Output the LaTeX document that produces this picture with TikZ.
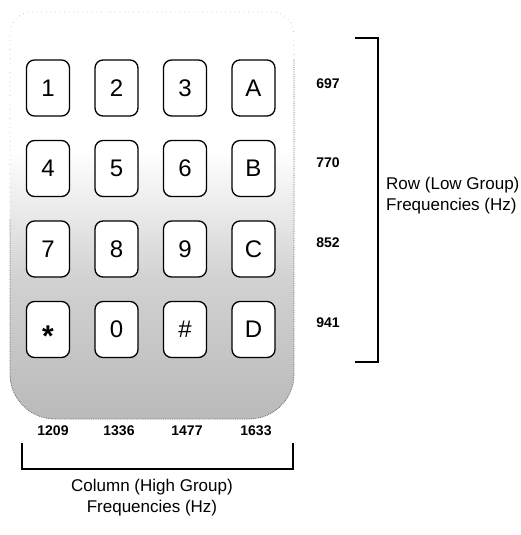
\documentclass[tikz,border=0pt]{standalone}
\usepackage{fontspec}
\setmainfont{Liberation Sans}
\pgfdeclareverticalshading{panelshade}{100bp}{color(0bp)=(black!27); color(25bp)=(black!27); color(42bp)=(black!18); color(58bp)=(white); color(100bp)=(white)}
\begin{document}
\begin{tikzpicture}[x=1pt,y=-1pt,
  keybox/.style={draw=black, line width=1.3pt, rounded corners=8pt, fill=white,
    minimum width=43pt, minimum height=56pt, inner sep=0pt, font=\fontsize{24}{26}\selectfont},
  freq/.style={font=\fontsize{14}{16}\selectfont\bfseries, inner sep=0pt},
  grouplabel/.style={font=\fontsize{17}{21}\selectfont, align=left, inner sep=0pt},
  bracketline/.style={draw=black, line width=1.3pt},
  paneledge/.style={draw=black!60, densely dotted, line width=0.8pt},
  panelfaint/.style={draw=black!30, loosely dotted, line width=0.6pt}]
\useasboundingbox (0,0) rectangle (520,535);
% panel
\path[shading=panelshade]
  [rounded corners=45pt] (10,220) -- (10,419) -- (294,419) -- (294,220)
  [rounded corners=22pt] -- (294,12) -- (10,12) -- cycle;
\draw[panelfaint] [rounded corners=22pt] (10,220) -- (10,12) -- (294,12) -- (294,60);
\draw[paneledge] [rounded corners=45pt] (294,60) -- (294,419) -- (10,419) -- (10,220);
% keys
\newcommand{\keystar}{\vphantom{0}\smash{\raisebox{-8.6pt}{\fontsize{30}{30}\selectfont\bfseries *}}}
\foreach \lab/\nm [count=\i from 0] in {1/k1,2/k2,3/k3,A/kA,4/k4,5/k5,6/k6,B/kB,7/k7,8/k8,9/k9,C/kC,\keystar/kstar,0/k0,\#/khash,D/kD}{
  \pgfmathtruncatemacro{\c}{mod(\i,4)}
  \pgfmathtruncatemacro{\r}{int(\i/4)}
  \pgfmathsetmacro{\xx}{48+68.5*\c}
  \pgfmathsetmacro{\yy}{88+80.5*\r}
  \node[keybox] (\nm) at (\xx,\yy) {\lab};
}
% row frequencies
\node[freq] (f697) at (328,84) {697};
\node[freq] (f770) at (328,163) {770};
\node[freq] (f852) at (328,243) {852};
\node[freq] (f941) at (328,323) {941};
% column frequencies
\node[freq] (f1209) at (53,431) {1209};
\node[freq] (f1336) at (119,431) {1336};
\node[freq] (f1477) at (187,431) {1477};
\node[freq] (f1633) at (256,431) {1633};
% brackets
\coordinate (rt) at (355,38);
\coordinate (rb) at (355,362);
\draw[bracketline] (rt) -- ++(23,0) |- (rb);
\coordinate (cl) at (22,443);
\coordinate (cr) at (293,443);
\draw[bracketline] (cl) -- ++(0,26) -| (cr);
% labels
\node[grouplabel, anchor=west] (rowlab) at (386,196) {Row (Low Group)\\Frequencies (Hz)};
\node[grouplabel, align=center] (collab) at (152,498) {Column (High Group)\\Frequencies (Hz)};
\end{tikzpicture}
\end{document}
